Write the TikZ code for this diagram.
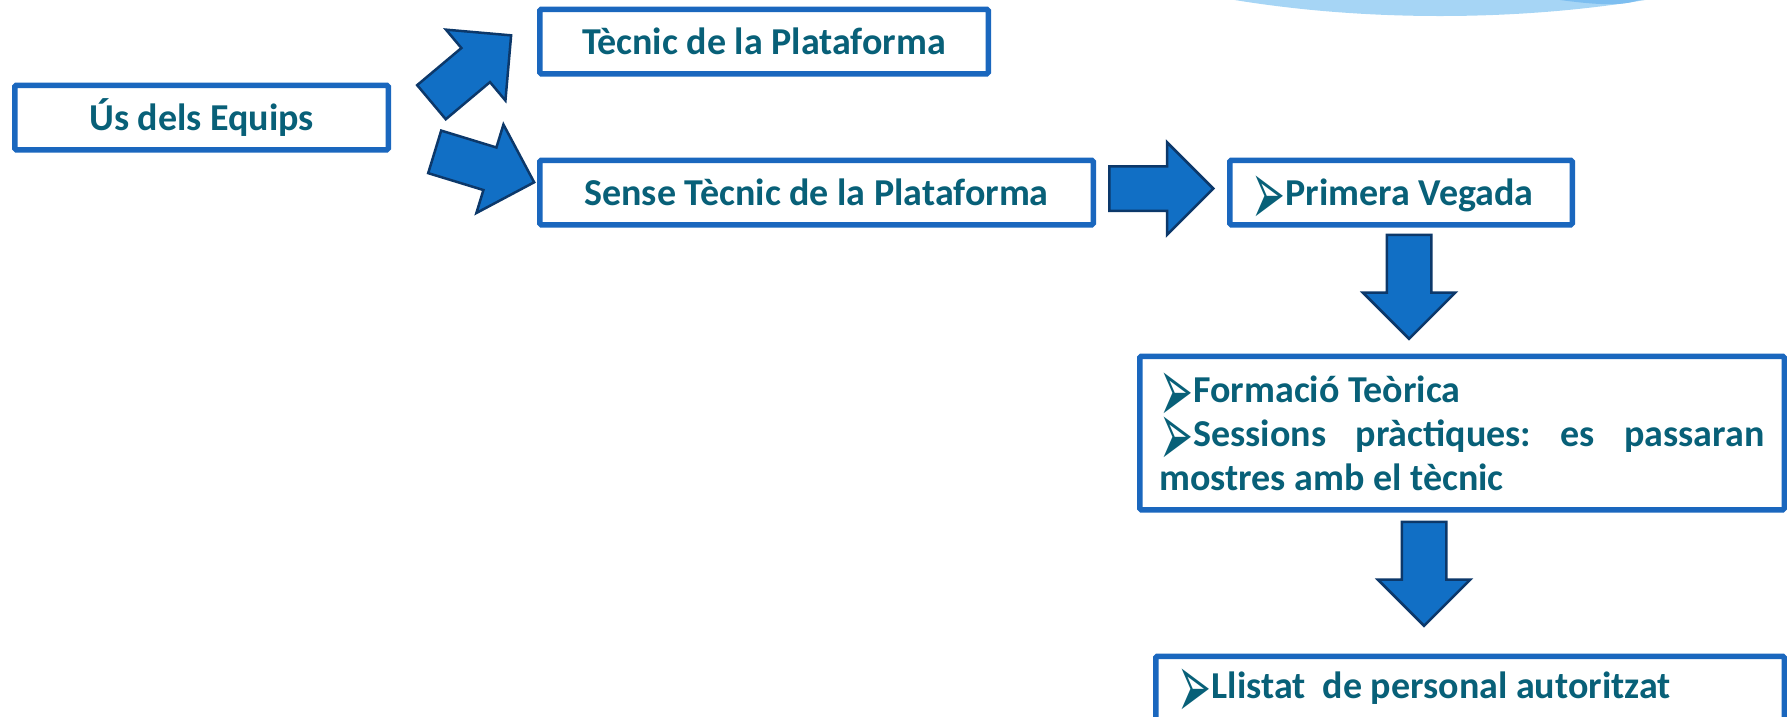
\documentclass[tikz,border=0pt]{standalone}
\usepackage{fontspec}
\setmainfont{Carlito}
\newfontfamily\symfont{DejaVu Sans}
\usepackage{tikz}
\usetikzlibrary{shapes,arrows,positioning,calc}
\definecolor{boxblue}{RGB}{26, 103, 190}
\definecolor{arrowfill}{RGB}{17, 111, 197}
\definecolor{arrowline}{RGB}{12, 56, 106}
\definecolor{txt}{RGB}{8, 96, 120}
\definecolor{cloud}{RGB}{166, 213, 245}
\definecolor{cloudedge}{RGB}{125, 190, 240}
\newcommand{\arrowbullet}{\smash{\raisebox{-20pt}{\scalebox{1.35}[3.1]{\symfont\fontsize{30}{30}\selectfont ➢}}}}
\tikzstyle{box} = [rectangle, draw=boxblue, line width=5.5pt, rounded corners=1.5pt, fill=white, text=txt, font=\bfseries\fontsize{38}{44}\selectfont, inner sep=0pt]
\tikzstyle{onebox} = [box, minimum height=64.5pt, text height=28pt, text depth=2pt]
\tikzstyle{listbox} = [onebox, align=flush left, inner xsep=22pt]
\tikzstyle{bigarrow} = [single arrow, draw=arrowline, fill=arrowfill, line width=2.5pt, inner sep=0pt, inner ysep=21pt, minimum width=90pt, minimum height=104pt, single arrow head extend=24pt, anchor=tail]

\begin{document}
\begin{tikzpicture}[x=1pt, y=-1pt]
\useasboundingbox (0,0) rectangle (1787,716);

% cloud at the top ======================
\begin{scope}
\clip (0,0) rectangle (1787,716);
\fill[cloud] (1440,-184) ellipse [x radius=523pt, y radius=200pt];
\fill[cloudedge] (1560,0) .. controls (1590,4) and (1615,6) .. (1632,2) -- (1640,0) -- cycle;
\end{scope}

% boxes =================================
\node[onebox, minimum width=373.5pt] (us) at (201.5,117.5) {Ús dels Equips};
\node[onebox, minimum width=448.5pt, above right=6pt and 146pt of us] (tec) {Tècnic de la Plataforma};
\node[onebox, minimum width=553.5pt, below right=5pt and 146pt of us] (sense) {Sense Tècnic de la Plataforma};

% first time
\node[listbox, minimum width=342.5pt, text width=298.5pt, right=131pt of sense] (prim) {\arrowbullet Primera Vegada};
\node[box, align=flush left, minimum width=644.5pt, minimum height=153.5pt, text width=605pt, inner xsep=19.75pt, below=126pt of prim, xshift=61pt] (form)
  {\arrowbullet Formació Teòrica\\
   \arrowbullet Sessions\hfill pràctiques:\hfill es\hfill passaran\\
   mostres amb el tècnic};
\node[listbox, minimum width=628.5pt, text width=584.5pt, text depth=8pt, below=141pt of form, xshift=8pt] (llist) {\arrowbullet Llistat\ \ de personal autoritzat};

% arrows ================================
\node[bigarrow, rotate=40] (a1) at ($(us.north east)+(39.5,20.5)$) {};
\node[bigarrow, rotate=-17] (a2) at ($(us.south east)+(42.5,-1)$) {};
\node[bigarrow] (a3) at ($(sense.east)+(12,-4)$) {};
\node[bigarrow, rotate=-90] (a4) at ($(prim.south)+(8,6)$) {};
\node[bigarrow, rotate=-90] (a5) at ($(form.south)+(-38,8)$) {};

\end{tikzpicture}
\end{document}
